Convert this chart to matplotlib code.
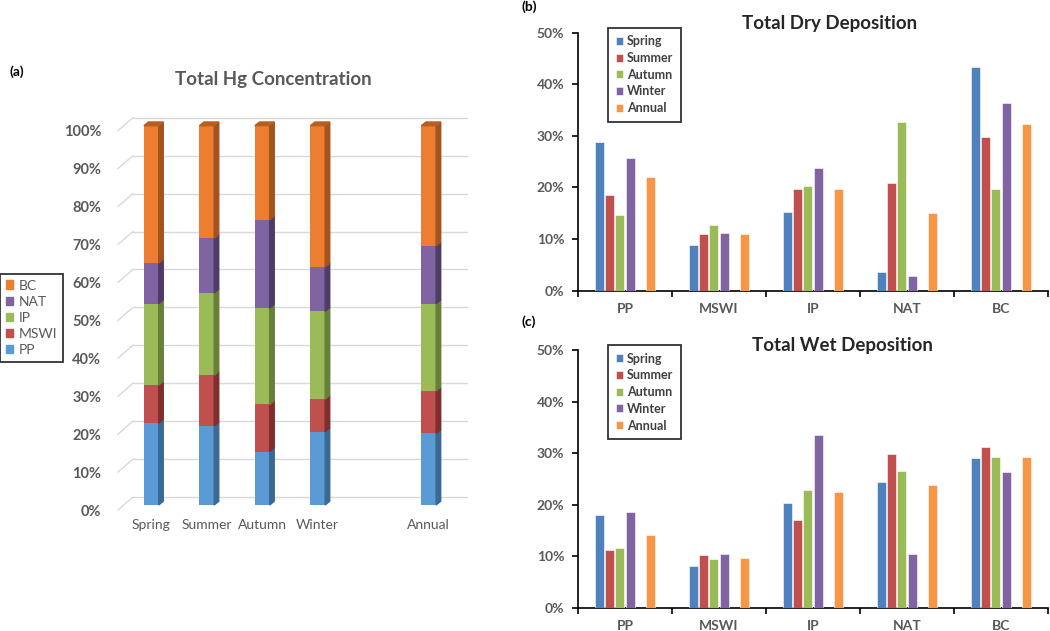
import matplotlib.pyplot as plt
import matplotlib.transforms as mtransforms
import numpy as np
from matplotlib.patches import Polygon, Patch
from matplotlib.ticker import PercentFormatter

plt.rcParams['font.family'] = ['Lato', 'DejaVu Sans']

# (a) total Hg concentration, share of each source (%)
periods = ['Spring', 'Summer', 'Autumn', 'Winter', 'Annual']
sources = ['PP', 'MSWI', 'IP', 'NAT', 'BC']
conc = {
    'PP':   [21.6, 20.9, 14.1, 19.3, 18.9],
    'MSWI': [10.0, 13.3, 12.4, 8.6, 11.2],
    'IP':   [21.5, 21.7, 25.4, 23.2, 23.0],
    'NAT':  [10.7, 14.4, 23.2, 11.6, 15.2],
    'BC':   [36.2, 29.7, 24.9, 37.3, 31.7],
}

# (b) dry deposition, share per source for each period (%)
dry = {
    'Spring': [28.8, 8.8, 15.2, 3.7, 43.4],
    'Summer': [18.6, 11.0, 19.8, 20.9, 29.7],
    'Autumn': [14.6, 12.7, 20.3, 32.6, 19.8],
    'Winter': [25.8, 11.1, 23.7, 2.8, 36.4],
    'Annual': [22.0, 10.9, 19.8, 15.0, 32.3],
}

# (c) wet deposition (%)
wet = {
    'Spring': [17.9, 8.1, 20.3, 24.3, 29.1],
    'Summer': [11.1, 10.3, 17.1, 29.8, 31.2],
    'Autumn': [11.5, 9.4, 22.8, 26.6, 29.2],
    'Winter': [18.5, 10.5, 33.5, 10.5, 26.4],
    'Annual': [14.2, 9.6, 22.5, 23.8, 29.2],
}

a_colors = {'PP': '#5B9BD5', 'MSWI': '#C0504D', 'IP': '#9BBB59',
            'NAT': '#8064A2', 'BC': '#ED7D31'}
a_side = {'PP': '#3A6A93', 'MSWI': '#7E2F2D', 'IP': '#66803A',
          'NAT': '#4F3C66', 'BC': '#A3531E'}
a_topc = {'BC': '#B85F1F'}
p_colors = {'Spring': '#4F81BD', 'Summer': '#C0504D', 'Autumn': '#9BBB59',
            'Winter': '#8064A2', 'Annual': '#F79646'}

GRAY = '#595959'

fig = plt.figure(figsize=(10.5, 6.31), dpi=100)

# ---------------- panel (a) ----------------
ax = fig.add_axes([118/1050, 126/631, 349/1050, 379.3/631])
xs = np.array([0, 1, 2, 3, 5])
w = 0.266
dx, dy = 0.083, 0.0098
ax.set_xlim(-0.6, 5.69)
ax.set_ylim(0, 1.0)

# back wall gridlines
for t in np.arange(0, 1.01, 0.1):
    ax.plot([-0.33, 5.69], [t + 0.021, t + 0.021], color='#D9D9D9', lw=1, zorder=0, clip_on=False)
    ax.plot([-0.6, -0.33], [t - 0.013, t + 0.021], color='#D9D9D9', lw=1, zorder=0, clip_on=False)

bottom = np.zeros(len(xs))
for s in sources:
    vals = np.array(conc[s]) / 100
    ax.bar(xs, vals, w, bottom=bottom, color=a_colors[s], zorder=3)
    for x, b, v in zip(xs, bottom, vals):
        x1 = x + w / 2
        ax.add_patch(Polygon([(x1, b), (x1 + dx, b + dy), (x1 + dx, b + v + dy), (x1, b + v)],
                             closed=True, color=a_side[s], zorder=3, clip_on=False))
        if s == 'BC':
            x0 = x - w / 2
            ax.add_patch(Polygon([(x0, b + v), (x1, b + v), (x1 + dx, b + v + dy), (x0 + dx, b + v + dy)],
                                 closed=True, color=a_topc[s], zorder=3, clip_on=False))
    bottom += vals

ax.set_xticks(xs)
ax.set_xticklabels(periods, fontsize=10, color=GRAY)
ax.set_yticks(np.arange(0, 1.01, 0.1))
ax.yaxis.set_major_formatter(PercentFormatter(1.0, decimals=0))
ax.tick_params(axis='y', labelsize=10.5, labelcolor=GRAY, length=0, pad=12)
ax.tick_params(axis='x', length=0, pad=10)
shift = mtransforms.ScaledTranslation(0, -5 / 100, fig.dpi_scale_trans)
for lab in ax.get_yticklabels():
    lab.set_fontweight('bold')
    lab.set_transform(lab.get_transform() + shift)
for sp in ax.spines.values():
    sp.set_visible(False)

fig.text(273/1050, 1 - 79/631, 'Total Hg Concentration', ha='center', va='center',
         fontsize=13.5, fontweight='bold', color=GRAY)
fig.text(9/1050, 1 - 72/631, '(a)', ha='left', va='center', fontsize=10, fontweight='bold')

handles = [Patch(color=a_colors[s]) for s in sources[::-1]]
leg = fig.legend(handles, sources[::-1], loc='upper left', bbox_to_anchor=(0.0, 1 - 274/631),
                 fontsize=10, frameon=True, fancybox=False, handlelength=0.55, handleheight=0.55,
                 handletextpad=0.4, labelspacing=0.3, borderpad=0.4, borderaxespad=0)
leg.get_frame().set_edgecolor('black')
leg.get_frame().set_linewidth(1.3)
for t in leg.get_texts():
    t.set_color(GRAY)


# ---------------- panels (b) and (c) ----------------
def dep_panel(rect, data, title, title_xy, label, label_xy):
    ax = fig.add_axes(rect)
    cats = np.arange(len(sources))
    slot = 0.1085
    offs = [-2.5, -1.5, -0.5, 0.5, 2.5]
    bars = []
    for p, o in zip(periods, offs):
        b = ax.bar(cats + o * slot, np.array(data[p]) / 100, 0.096, color=p_colors[p],
                   edgecolor='white', linewidth=0.4, zorder=3)
        bars.append(b)
    ax.set_xlim(-0.5, 4.5)
    ax.set_ylim(0, 0.5)
    ax.set_yticks(np.arange(0, 0.51, 0.1))
    ax.yaxis.set_major_formatter(PercentFormatter(1.0, decimals=0))
    ax.set_xticks(cats)
    ax.set_xticklabels(sources, fontsize=10, fontweight='bold', color=GRAY)
    ax.set_xticks(np.arange(-0.5, 4.6, 1), minor=True)
    ax.tick_params(axis='x', which='major', length=0, pad=9)
    ax.tick_params(axis='x', which='minor', length=4, width=1.2, direction='out')
    ax.tick_params(axis='y', length=4, width=1.2, direction='out', labelsize=10, labelcolor=GRAY, pad=6)
    for lab in ax.get_yticklabels():
        lab.set_fontweight('bold')
    for s in ['top', 'right']:
        ax.spines[s].set_visible(False)
    for s in ['left', 'bottom']:
        ax.spines[s].set_linewidth(1.2)
    fig.text(title_xy[0] / 1050, 1 - title_xy[1] / 631, title, ha='center', va='center',
             fontsize=13.5, fontweight='bold', color='#262626')
    fig.text(label_xy[0] / 1050, 1 - label_xy[1] / 631, label, ha='left', va='center',
             fontsize=10, fontweight='bold')
    lg = ax.legend([b[0] for b in bars], periods, loc='upper left',
                   bbox_to_anchor=(30 / 470, 1 + 5 / 258), fontsize=9,
                   frameon=True, fancybox=False, handlelength=0.6, handleheight=0.6,
                   handletextpad=0.3, labelspacing=0.38, borderpad=0.6, borderaxespad=0)
    lg.get_frame().set_edgecolor('black')
    lg.get_frame().set_linewidth(1.3)
    for t in lg.get_texts():
        t.set_fontweight('bold')
        t.set_color('#404040')
    return ax


dep_panel([578/1050, 340.3/631, 470/1050, 258/631], dry, 'Total Dry Deposition',
          (830, 24), '(b)', (521, 7))
dep_panel([578/1050, 23.3/631, 470/1050, 257.7/631], wet, 'Total Wet Deposition',
          (842, 346), '(c)', (521, 322))

fig.savefig('out.png', dpi=100)
